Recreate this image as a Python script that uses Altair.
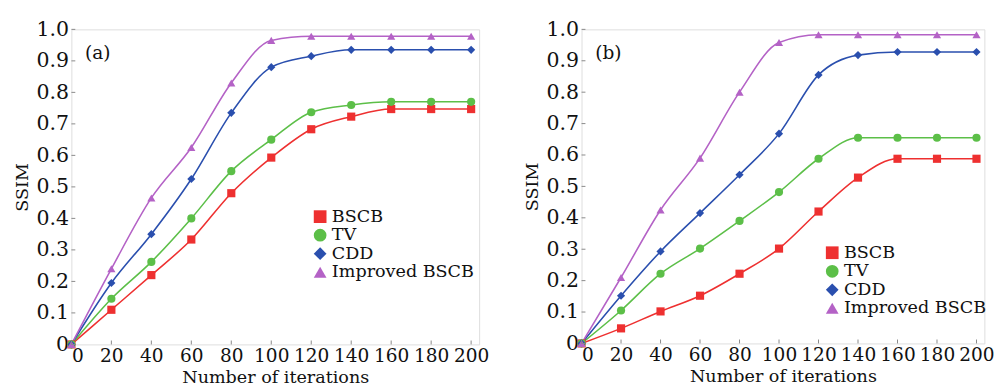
import altair as alt
import pandas as pd

iterations = [0, 20, 40, 60, 80, 100, 120, 140, 160, 180, 200]
methods = ["BSCB", "TV", "CDD", "Improved BSCB"]

# Panel (a)
a_bscb = [0, 0.110, 0.220, 0.333, 0.480, 0.593, 0.683, 0.723, 0.747, 0.747, 0.747]
a_tv = [0, 0.145, 0.262, 0.400, 0.550, 0.650, 0.737, 0.760, 0.770, 0.770, 0.770]
a_cdd = [0, 0.195, 0.350, 0.525, 0.735, 0.880, 0.915, 0.935, 0.935, 0.935, 0.935]
a_imp = [0, 0.240, 0.465, 0.625, 0.830, 0.965, 0.978, 0.978, 0.978, 0.978, 0.978]

# Panel (b)
b_bscb = [0, 0.048, 0.102, 0.152, 0.222, 0.302, 0.420, 0.528, 0.588, 0.588, 0.588]
b_tv = [0, 0.105, 0.222, 0.302, 0.390, 0.482, 0.588, 0.655, 0.655, 0.655, 0.655]
b_cdd = [0, 0.152, 0.293, 0.415, 0.537, 0.668, 0.855, 0.918, 0.928, 0.928, 0.928]
b_imp = [0, 0.210, 0.425, 0.590, 0.800, 0.958, 0.983, 0.983, 0.983, 0.983, 0.983]

x_ticks = [0, 20, 40, 60, 80, 100, 120, 140, 160, 180, 200]
y_ticks = [0, 0.1, 0.2, 0.3, 0.4, 0.5, 0.6, 0.7, 0.8, 0.9, 1.0]

colors = ["#ee3030", "#5cbf48", "#2a4fae", "#b462c6"]
shapes = ["square", "circle", "diamond", "triangle-up"]
FONT = "DejaVu Serif"


def make_df(series):
    rows = []
    for m, vals in zip(methods, series):
        for it, v in zip(iterations, vals):
            rows.append({"iter": it, "ssim": v, "method": m})
    return pd.DataFrame(rows)


x_axis = alt.Axis(values=x_ticks, title="Number of iterations", grid=False,
                  ticks=False, domain=False, labelPadding=3, titlePadding=3,
                  labelOverlap=False,
                  labelFont=FONT, titleFont=FONT, labelFontSize=19,
                  titleFontSize=18, titleFontWeight="normal",
                  labelColor="#111", titleColor="#111")
y_axis = alt.Axis(values=y_ticks, title="SSIM", grid=False, ticks=False,
                  domain=False, labelPadding=3, titlePadding=5,
                  labelOverlap=False, labelBound=False,
                  labelExpr="datum.value == 0 ? '0' : format(datum.value, '.1f')",
                  labelFont=FONT, titleFont=FONT, labelFontSize=21,
                  titleFontSize=18, titleFontWeight="normal",
                  labelColor="#111", titleColor="#111")
x = alt.X("iter:Q", scale=alt.Scale(domain=[0, 204], nice=False), axis=x_axis)
y = alt.Y("ssim:Q", scale=alt.Scale(domain=[0, 1], nice=False), axis=y_axis)


def panel(series, label, W, H, leg_x, leg_y):
    df = make_df(series)
    leg = alt.Legend(orient="none", legendX=leg_x, legendY=leg_y, title=None,
                     labelFont=FONT, labelFontSize=18, labelColor="#111",
                     symbolSize=170, symbolStrokeWidth=0, rowPadding=1,
                     labelOffset=3, symbolOpacity=1)
    color = alt.Color("method:N", scale=alt.Scale(domain=methods, range=colors), legend=leg)
    shape = alt.Shape("method:N", scale=alt.Scale(domain=methods, range=shapes), legend=leg)

    base = alt.Chart(df)
    lines = base.mark_line(interpolate="monotone", strokeWidth=1.6).encode(x=x, y=y, color=color)
    points = base.mark_point(filled=True, size=70, opacity=1).encode(x=x, y=y, color=color, shape=shape)

    xt = alt.Chart(pd.DataFrame({"iter": x_ticks})).mark_rule(color="#888", strokeWidth=1).encode(
        x=x, y=alt.value(H), y2=alt.value(H - 4))
    yt = alt.Chart(pd.DataFrame({"ssim": y_ticks})).mark_rule(color="#888", strokeWidth=1).encode(
        y=y, x=alt.value(0), x2=alt.value(4))
    txt = alt.Chart(pd.DataFrame({"t": [label]})).mark_text(
        font=FONT, fontSize=19, align="left", baseline="middle", color="#111").encode(
        text="t:N", x=alt.value(14), y=alt.value(24))

    return alt.layer(lines, points, xt, yt, txt).properties(width=W, height=H)


left = panel([a_bscb, a_tv, a_cdd, a_imp], "(a)", 418, 323, 246, 183)
right = panel([b_bscb, b_tv, b_cdd, b_imp], "(b)", 413, 322, 248, 220)

chart = alt.hconcat(left, right, spacing=34).resolve_scale(
    color="independent", shape="independent").configure_view(
    stroke="#8a8a8a", strokeWidth=1.2).configure(background="white")

chart.save("out.html", embed_options={"renderer": "svg", "actions": False})
